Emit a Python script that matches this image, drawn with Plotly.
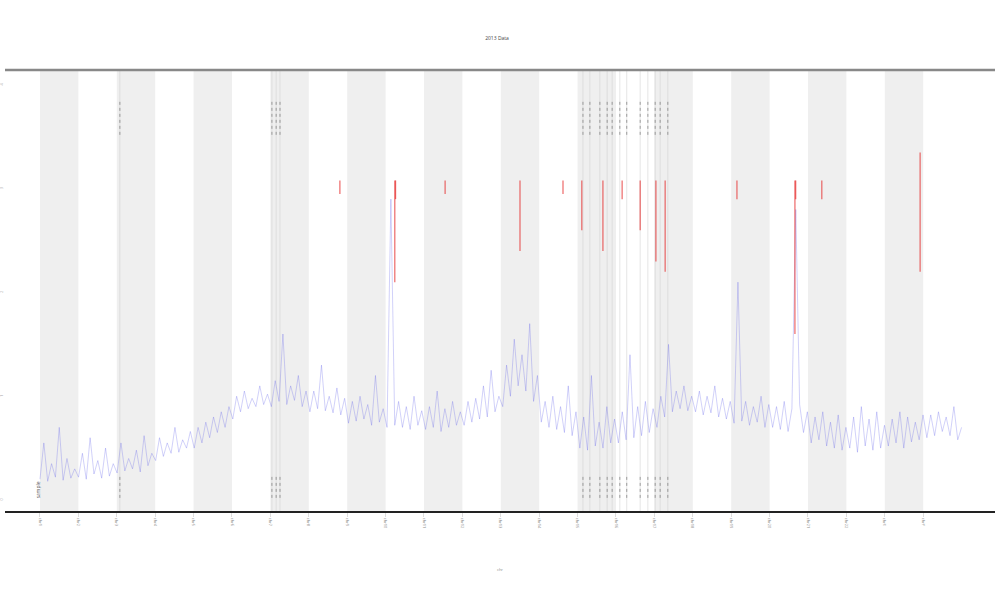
import numpy as np
import plotly.graph_objects as go

# ---- data ----
chromosomes = ["chr%d" % i for i in range(1, 23)] + ["chrX", "chrY"]

signal = [
    0.20,0.55,0.18,0.35,0.22,0.70,0.19,0.40,0.21,0.30,
    0.22,0.45,0.20,0.60,0.25,0.38,0.21,0.50,0.23,0.35,
    0.26,0.55,0.28,0.40,0.30,0.48,0.27,0.62,0.33,0.45,
    0.38,0.60,0.42,0.55,0.45,0.70,0.46,0.58,0.50,0.66,
    0.50,0.70,0.55,0.75,0.60,0.80,0.65,0.85,0.70,0.90,
    0.78,1.00,0.85,1.05,0.88,0.98,0.90,1.10,0.92,1.02,
    0.90,1.15,0.95,1.60,0.92,1.10,0.96,1.20,0.90,1.05,
    0.85,1.05,0.88,1.30,0.86,1.00,0.84,1.08,0.82,0.98,
    0.74,0.95,0.76,1.00,0.78,0.92,0.72,1.20,0.75,0.88,
    0.70,2.90,0.72,0.95,0.70,0.90,0.68,1.00,0.72,0.86,
    0.68,0.90,0.70,1.05,0.66,0.88,0.70,0.95,0.72,0.85,
    0.72,0.95,0.75,0.98,0.78,1.10,0.80,1.25,0.85,1.00,
    0.90,1.30,1.00,1.55,1.10,1.40,1.05,1.70,0.95,1.20,
    0.75,0.95,0.70,1.00,0.68,0.90,0.65,1.10,0.62,0.85,
    0.50,0.80,0.48,1.20,0.52,0.75,0.50,0.90,0.55,0.78,
    0.55,0.85,0.58,1.40,0.60,0.90,0.62,0.95,0.65,0.88,
    0.70,1.00,0.80,1.50,0.85,1.05,0.88,1.10,0.86,1.00,
    0.85,1.05,0.82,1.00,0.84,1.10,0.80,0.98,0.78,0.95,
    0.74,2.10,0.76,0.95,0.72,0.90,0.75,1.00,0.70,0.92,
    0.70,0.90,0.68,0.95,0.66,0.88,2.80,0.92,0.65,0.85,
    0.55,0.80,0.58,0.85,0.52,0.75,0.50,0.82,0.48,0.70,
    0.50,0.80,0.46,0.90,0.52,0.78,0.48,0.85,0.50,0.72,
    0.52,0.78,0.55,0.85,0.50,0.80,0.56,0.75,0.58,0.82,
    0.60,0.82,0.62,0.85,0.66,0.80,0.62,0.90,0.58,0.70,
]
signal_pos = np.linspace(0, 24, len(signal))

red_pos = [7.81, 9.24, 9.26, 10.55, 12.5, 13.62, 14.11, 14.66, 15.16, 15.63, 16.04, 16.28, 18.15, 19.66, 19.68, 20.36, 22.92]
red_top = [3.08, 3.08, 3.08, 3.08, 3.08, 3.08, 3.08, 3.08, 3.08, 3.08, 3.08, 3.08, 3.08, 3.08, 3.08, 3.08, 3.35]
red_bottom = [2.95, 2.10, 2.90, 2.95, 2.40, 2.95, 2.60, 2.40, 2.90, 2.60, 2.30, 2.20, 2.90, 1.60, 2.90, 2.90, 2.20]

rug_pos = [2.08, 6.04, 6.15, 6.25, 14.14, 14.32, 14.58, 14.77, 14.90, 15.10, 15.28, 15.63, 15.83, 16.02, 16.15, 16.35]

y_ticks = [0, 1, 2, 3, 4]
y_ticklabels = ["0", "1", "2", "3", "4"]

# ---- figure ----
fig = go.Figure()

for k in range(0, 24, 2):
    fig.add_shape(type="rect", xref="x", yref="paper", x0=k, x1=k + 1, y0=0, y1=1,
                  fillcolor="#efefef", line_width=0, layer="below")
for p in rug_pos:
    fig.add_shape(type="line", xref="x", yref="paper", x0=p, x1=p, y0=0, y1=1,
                  line=dict(color="rgba(205,205,205,0.5)", width=1), layer="below")

fig.add_trace(go.Scatter(x=signal_pos, y=signal, mode="lines",
                         line=dict(color="rgba(90,90,235,0.4)", width=0.7),
                         name="signal", showlegend=False))

rx, ry = [], []
for p, t, b in zip(red_pos, red_top, red_bottom):
    rx += [p, p, None]
    ry += [b, t, None]
fig.add_trace(go.Scatter(x=rx, y=ry, mode="lines",
                         line=dict(color="rgba(230,40,40,0.7)", width=1.2),
                         showlegend=False))

tx, ty = [], []
for p in rug_pos:
    tx += [p, p, None, p, p, None]
    ty += [3.52, 3.86, None, 0.02, 0.24, None]
fig.add_trace(go.Scatter(x=tx, y=ty, mode="lines",
                         line=dict(color="rgba(90,90,90,0.55)", width=1, dash="dot"),
                         showlegend=False))

fig.add_shape(type="line", xref="paper", yref="paper", x0=0, x1=1, y0=1, y1=1,
              line=dict(color="#888888", width=2.5))
fig.add_shape(type="line", xref="paper", yref="paper", x0=0, x1=1, y0=0, y1=0,
              line=dict(color="#222222", width=2))

fig.add_annotation(text="sample", xref="paper", yref="y", x=0.028, y=0.1, showarrow=False,
                   textangle=-90, font=dict(size=5, color="#555555"))

fig.update_layout(
    width=1000, height=600,
    margin=dict(l=5, r=5, t=70, b=88, autoexpand=False),
    paper_bgcolor="white", plot_bgcolor="white",
    title=dict(text="2013 Data", x=0.497, y=0.94, xanchor="center",
               font=dict(size=5, color="#444444")),
    xaxis=dict(range=[-0.911, 24.87], tickmode="array", automargin=False,
               tickvals=list(range(24)), ticktext=chromosomes,
               tickangle=90, tickfont=dict(size=4, color="#888888"),
               ticks="outside", ticklen=4, tickcolor="#dddddd",
               showgrid=False, zeroline=False, showline=False,
               title=dict(text="chr", font=dict(size=4, color="#888888"), standoff=40)),
    yaxis=dict(range=[-0.116, 4.145], tickmode="array", automargin=False,
               tickvals=y_ticks, ticktext=y_ticklabels, tickangle=-90,
               tickfont=dict(size=4, color="#aaaaaa"),
               showgrid=False, zeroline=False, showline=False, ticks=""),
    showlegend=False,
)

fig.write_html("out.html", config={"displayModeBar": False},
               post_script="document.body.style.margin='0';")
